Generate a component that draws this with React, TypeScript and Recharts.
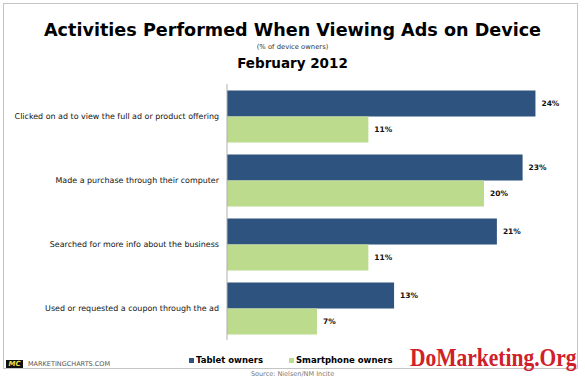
import { Bar, BarChart, LabelList, XAxis, YAxis } from 'recharts'

const activities = [
  'Clicked on ad to view the full ad or product offering',
  'Made a purchase through their computer',
  'Searched for more info about the business',
  'Used or requested a coupon through the ad',
]
const tabletOwners = [24, 23, 21, 13]
const smartphoneOwners = [11, 20, 11, 7]

const TABLET = '#2f537f'
const PHONE = '#bcdb8c'
const FONT = '"DejaVu Sans", Verdana, sans-serif'

const data = activities.map((activity, i) => ({
  activity,
  tablet: tabletOwners[i],
  phone: smartphoneOwners[i],
}))

const pct = (v: any) => `${v}%`

// single-line category label, right aligned against the axis
const CategoryTick = ({ x, y, payload }: any) => (
  <text
    x={x}
    y={y}
    dy={3}
    textAnchor="end"
    fontSize={7.95}
    fill="#111"
    fontFamily={FONT}
  >
    {payload.value}
  </text>
)

export default function App() {
  return (
    <div
      style={{
        position: 'absolute',
        left: 0,
        top: 0,
        width: 585,
        height: 380,
        background: '#fff',
        fontFamily: FONT,
        color: '#000',
        overflow: 'hidden',
      }}
    >
      {/* frame */}
      <div
        style={{
          position: 'absolute',
          left: 3,
          top: 3,
          width: 575,
          height: 366,
          border: '1px solid #c4c4c4',
          boxSizing: 'border-box',
        }}
      />
      <div
        style={{
          position: 'absolute',
          left: 0,
          width: 585,
          top: 20,
          textAlign: 'center',
          fontSize: 17.6,
          fontWeight: 'bold',
          lineHeight: '20px',
        }}
      >
        Activities Performed When Viewing Ads on Device
      </div>
      <div
        style={{
          position: 'absolute',
          left: 0,
          width: 585,
          top: 42,
          textAlign: 'center',
          fontSize: 6.8,
          lineHeight: '10px',
          color: '#333',
        }}
      >
        (% of device owners)
      </div>
      <div
        style={{
          position: 'absolute',
          left: 0,
          width: 585,
          top: 55,
          textAlign: 'center',
          fontSize: 13.5,
          fontWeight: 'bold',
          lineHeight: '16px',
        }}
      >
        February 2012
      </div>

      <div style={{ position: 'absolute', left: 0, top: 0 }}>
        <BarChart
          width={585}
          height={380}
          data={data}
          layout="vertical"
          margin={{ top: 84, right: 11, bottom: 40, left: 7 }}
          barCategoryGap="10%"
          barGap={0}
        >
          <XAxis type="number" domain={[0, 27]} hide />
          <YAxis
            type="category"
            dataKey="activity"
            width={220}
            axisLine={{ stroke: '#b0b0b0' }}
            tickLine={false}
            tick={<CategoryTick />}
            interval={0}
          />
          <Bar dataKey="tablet" fill={TABLET} isAnimationActive={false}>
            <LabelList
              dataKey="tablet"
              position="right"
              offset={6}
              formatter={pct}
              style={{ fontSize: 7.5, fontWeight: 'bold', fill: '#111', fontFamily: FONT }}
            />
          </Bar>
          <Bar dataKey="phone" fill={PHONE} isAnimationActive={false}>
            <LabelList
              dataKey="phone"
              position="right"
              offset={6}
              formatter={pct}
              style={{ fontSize: 7.5, fontWeight: 'bold', fill: '#111', fontFamily: FONT }}
            />
          </Bar>
        </BarChart>
      </div>

      {/* footer */}
      <div
        style={{
          position: 'absolute',
          left: 6,
          top: 360,
          width: 17,
          height: 8,
          background: '#111',
          color: '#e8e04a',
          fontSize: 7,
          fontWeight: 'bold',
          fontStyle: 'italic',
          lineHeight: '8px',
          textAlign: 'center',
        }}
      >
        MC
      </div>
      <div
        style={{
          position: 'absolute',
          left: 28,
          top: 359,
          fontSize: 6.5,
          lineHeight: '10px',
          color: '#555',
        }}
      >
        MARKETINGCHARTS.COM
      </div>
      <div
        style={{
          position: 'absolute',
          left: 189,
          top: 354,
          fontSize: 8.5,
          fontWeight: 'bold',
          lineHeight: '12px',
          display: 'flex',
          alignItems: 'center',
          whiteSpace: 'nowrap',
        }}
      >
        <span style={{ width: 5, height: 5, background: TABLET, marginRight: 2 }} />
        <span>Tablet owners</span>
        <span style={{ width: 5, height: 5, background: PHONE, marginLeft: 26, marginRight: 2 }} />
        <span>Smartphone owners</span>
      </div>
      <div
        style={{
          position: 'absolute',
          left: 410,
          top: 347,
          fontFamily: '"Liberation Serif", serif',
          fontSize: 21.5,
          fontWeight: 'bold',
          lineHeight: '26px',
          color: '#d0202a',
          whiteSpace: 'nowrap',
          transform: 'scaleY(1.15)',
          transformOrigin: 'left bottom',
        }}
      >
        DoMarketing.Org
      </div>
      <div
        style={{
          position: 'absolute',
          left: 0,
          width: 585,
          top: 369,
          textAlign: 'center',
          fontSize: 6.5,
          lineHeight: '10px',
          color: '#777',
        }}
      >
        Source: Nielsen/NM Incite
      </div>
    </div>
  )
}
